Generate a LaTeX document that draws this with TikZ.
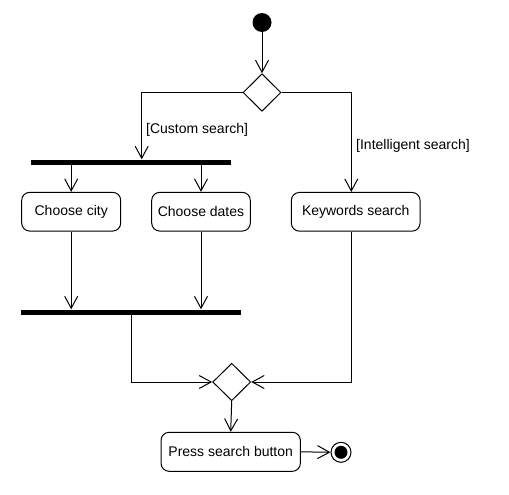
\documentclass[tikz,border=0pt]{standalone}
\usepackage{fontspec}
\setmainfont{Liberation Sans}
\usetikzlibrary{shapes.geometric,arrows.meta}
\begin{document}
\begin{tikzpicture}[x=1pt,y=-1pt,
  font=\fontsize{14}{16}\selectfont,
  line width=1pt,
  arr/.style={-{Straight Barb[length=12pt,width=13pt,line width=1pt]}},
  act/.style={draw,rounded corners=8pt,minimum height=38.7pt,inner sep=0pt},
  bar/.style={fill=black,inner sep=0pt,minimum height=5pt},
  dec/.style={draw,diamond,inner sep=0pt,minimum width=38pt,minimum height=37.5pt},
  guard/.style={anchor=west,inner sep=0pt}]
\useasboundingbox (0,0) rectangle (509,495);
\node[circle,fill=black,inner sep=0pt,minimum size=19pt] (start) at (262,22.5) {};
\node[dec] (d1) at (262,92.5) {};
\node[bar,minimum width=200pt] (fork) at (131,162.3) {};
\node[act,minimum width=99pt] (city) at (71.2,211.7) {Choose city};
\node[act,minimum width=98.6pt] (dates) at (201,211.7) {Choose dates};
\node[act,minimum width=128.7pt] (kw) at (355.7,211.8) {Keywords search};
\node[bar,minimum width=219.7pt] (join) at (130.8,312.3) {};
\node[dec] (d2) at (231.7,382) {};
\node[act,minimum width=139.3pt,minimum height=39pt] (press) at (230.7,451.8) {Press search button};
\node[circle,draw,inner sep=0pt,minimum size=20pt] (end) at (341,452.3) {};
\fill (end.center) circle (6.5pt);

\draw[arr] (start) -- (d1.north);
\draw[arr] (d1.west) -| ([xshift=10.7pt]fork.north);
\draw[arr] (d1.east) -| ([xshift=-4.4pt]kw.north);
\node[guard] (lc) at (145.7,130) {[Custom search]};
\node[guard] (li) at (355.7,145.7) {[Intelligent search]};
\draw[arr] (fork.south -| city.north) -- (city.north);
\draw[arr] (fork.south -| dates.north) -- (dates.north);
\draw[arr] (city.south) -- (city.south |- join.north);
\draw[arr] (dates.south) -- (dates.south |- join.north);
\draw[arr] ([xshift=0.9pt]join.south) |- (d2.west);
\draw[arr] ([xshift=-4pt]kw.south) |- (d2.east);
\draw[arr] (d2.south) -- (press.north);
\draw[arr] (press.east) -- (end.west);
\end{tikzpicture}
\end{document}
